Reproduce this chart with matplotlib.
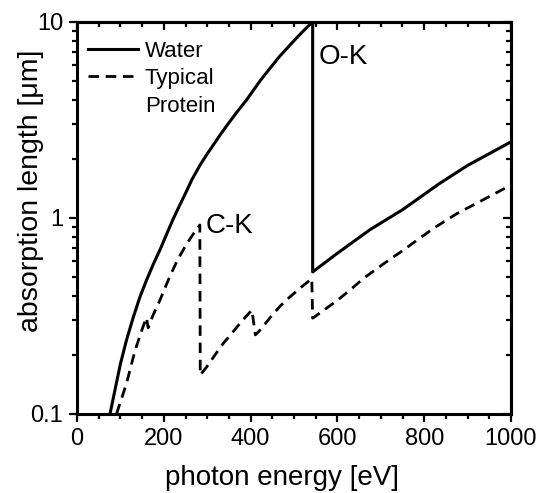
import matplotlib
matplotlib.use('Agg')
import matplotlib.pyplot as plt
from matplotlib.ticker import MultipleLocator, LogLocator, NullFormatter, FuncFormatter
from matplotlib.lines import Line2D

plt.rcParams['font.family'] = ['Liberation Sans', 'DejaVu Sans']

# photon energy [eV] vs absorption length [um]
water_e = [76, 100, 114, 130, 145, 160, 175, 191, 207, 221, 235, 249, 265, 283, 300, 314, 330, 345, 368,
           391, 422, 445, 468, 500, 520, 543,
           543, 600, 675, 750, 836, 900, 1000]
water_l = [0.1, 0.18, 0.238, 0.313, 0.395, 0.48, 0.575, 0.685, 0.83, 0.98, 1.14, 1.32, 1.57, 1.85, 2.12, 2.35, 2.65, 2.95, 3.45,
           4.0, 5.0, 5.8, 6.7, 8.0, 8.9, 10.0,
           0.53, 0.66, 0.87, 1.1, 1.5, 1.85, 2.44]

prot_e = [91, 114, 130, 138, 150, 160, 164, 175, 191, 210, 230, 250, 265, 283,
          284, 299, 320, 337, 360, 380, 403,
          411, 422, 445, 468, 491, 515, 541,
          543, 570, 598, 630, 660, 705, 752, 821, 875, 940, 1000]
prot_l = [0.1, 0.143, 0.196, 0.225, 0.27, 0.31, 0.275, 0.318, 0.38, 0.48, 0.6, 0.72, 0.81, 0.92,
          0.158, 0.174, 0.203, 0.229, 0.263, 0.298, 0.339,
          0.253, 0.268, 0.31, 0.355, 0.396, 0.44, 0.49,
          0.308, 0.34, 0.377, 0.43, 0.491, 0.58, 0.685, 0.883, 1.05, 1.25, 1.47]

edges = ['C-K', 'O-K']
edge_pos = [(297, 0.836), (556, 6.1)]

dash = (0, (3.8, 2.4))

fig = plt.figure(figsize=(5.42, 4.93), dpi=100)
ax = fig.add_axes([77/542, 79/493, 434/542, 392.3/493])

ax.plot(water_e, water_l, color='black', lw=2.2)
ax.plot(prot_e, prot_l, color='black', lw=2.0, linestyle=dash)

ax.set_yscale('log')
ax.set_xlim(0, 1000)
ax.set_ylim(0.1, 10)

ax.xaxis.set_major_locator(MultipleLocator(200))
ax.xaxis.set_minor_locator(MultipleLocator(50))
ax.yaxis.set_major_locator(LogLocator(base=10))
ax.yaxis.set_minor_locator(LogLocator(base=10, subs=range(2, 10)))
ax.yaxis.set_major_formatter(FuncFormatter(lambda v, p: f'{v:g}'))
ax.yaxis.set_minor_formatter(NullFormatter())
ax.tick_params(which='both', direction='out', top=False, right=False, width=1.6, labelsize=17, pad=4)
ax.tick_params(which='major', length=6)
ax.tick_params(which='minor', length=3.5)
for s in ax.spines.values():
    s.set_linewidth(2.2)

# inward ticks on the top and right
secx = ax.secondary_xaxis('top')
secx.xaxis.set_major_locator(MultipleLocator(200))
secx.xaxis.set_minor_locator(MultipleLocator(50))
secx.tick_params(which='both', direction='in', labeltop=False, width=1.6)
secx.tick_params(which='major', length=6)
secx.tick_params(which='minor', length=3.5)
secx.spines['top'].set_linewidth(2.2)

secy = ax.secondary_yaxis('right')
secy.yaxis.set_major_locator(LogLocator(base=10))
secy.yaxis.set_minor_locator(LogLocator(base=10, subs=range(2, 10)))
secy.tick_params(which='both', direction='in', labelright=False, width=1.6)
secy.tick_params(which='major', length=6)
secy.tick_params(which='minor', length=3.5)
secy.spines['right'].set_linewidth(2.2)

ax.set_xlabel('photon energy [eV]', fontsize=20)
ax.xaxis.set_label_coords(0.472, -0.13)
ax.set_ylabel('absorption length [μm]', fontsize=20.5)
ax.yaxis.set_label_coords(-0.076, 0.57)

for name, (x, y) in zip(edges, edge_pos):
    ax.text(x, y, name, fontsize=20, ha='left', va='baseline')

handles = [Line2D([], [], color='black', lw=2.2),
           Line2D([], [], color='black', lw=2.0, linestyle=dash),
           Line2D([], [], color='none')]
ax.legend(handles, ['Water', 'Typical', 'Protein'], loc='upper left', bbox_to_anchor=(0.026, 0.952),
          frameon=False, fontsize=16, handlelength=2.25, handletextpad=0.3, labelspacing=0.3,
          borderpad=0, borderaxespad=0)

fig.savefig('out.png', dpi=100)
